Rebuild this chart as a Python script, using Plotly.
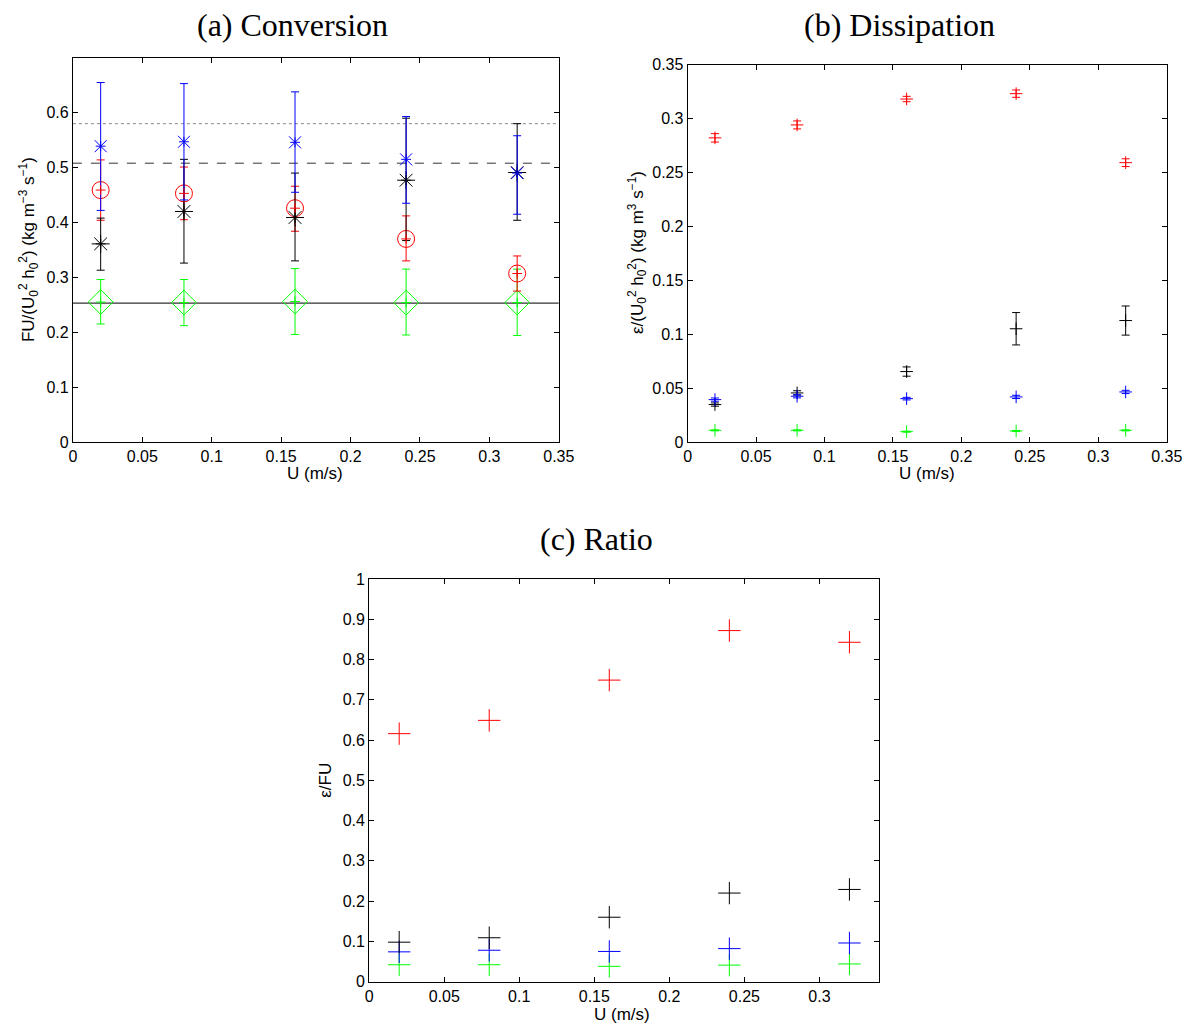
import plotly.graph_objects as go

U = [0.02, 0.08, 0.16, 0.24, 0.32]

# (a) Conversion FU/(U0^2 h0^2)
conv_blue = [0.539, 0.547, 0.546, 0.515, 0.490]
conv_blue_hi = [0.655, 0.653, 0.638, 0.593, 0.558]
conv_blue_lo = [0.422, 0.441, 0.455, 0.435, 0.415]
conv_black = [0.361, 0.420, 0.409, 0.477, 0.491]
conv_black_hi = [0.408, 0.515, 0.490, 0.590, 0.580]
conv_black_lo = [0.313, 0.326, 0.330, 0.367, 0.404]
conv_red = [0.459, 0.453, 0.426, 0.370, 0.307]
conv_red_hi = [0.514, 0.501, 0.466, 0.412, 0.339]
conv_red_lo = [0.404, 0.405, 0.384, 0.330, 0.275]
conv_green = [0.255, 0.254, 0.256, 0.254, 0.254]
conv_green_hi = [0.296, 0.296, 0.316, 0.315, 0.315]
conv_green_lo = [0.215, 0.212, 0.196, 0.195, 0.194]
ref_x = [0.0, 0.35]
ref_dotted = 0.580
ref_dashed = 0.508
ref_solid = 0.253

# (b) Dissipation eps/(U0^2 h0^2)
diss_red = [0.282, 0.294, 0.318, 0.323, 0.259]
diss_red_err = [0.0039, 0.0037, 0.0025, 0.0034, 0.0036]
diss_black = [0.0347, 0.0455, 0.0653, 0.105, 0.1126]
diss_black_err = [0.0015, 0.002, 0.0043, 0.015, 0.0135]
diss_blue = [0.0393, 0.0424, 0.0402, 0.0418, 0.0464]
diss_blue_err = [0.0015, 0.0015, 0.0012, 0.0015, 0.0015]
diss_green = [0.0108, 0.0108, 0.0096, 0.0102, 0.0108]
diss_green_err = [0.0005, 0.0005, 0.0005, 0.0005, 0.0005]

# (c) Ratio eps/FU
ratio_red = [0.616, 0.649, 0.749, 0.872, 0.843]
ratio_black = [0.098, 0.109, 0.160, 0.220, 0.229]
ratio_blue = [0.074, 0.078, 0.075, 0.082, 0.096]
ratio_green = [0.042, 0.042, 0.038, 0.041, 0.044]

RED, BLUE, GREEN, BLACK = "#ff0000", "#0000ff", "#00ff00", "#000000"

fig = go.Figure()


def err_trace(y, hi, lo, color, symbol, size, ax):
    return go.Scatter(
        x=U, y=y, mode="markers", xaxis="x" + ax, yaxis="y" + ax,
        marker=dict(symbol=symbol, size=size, color=color,
                    line=dict(color=color, width=1)),
        error_y=dict(type="data", symmetric=False,
                     array=[h - v for h, v in zip(hi, y)],
                     arrayminus=[v - l for v, l in zip(y, lo)],
                     color=color, thickness=1, width=4),
        showlegend=False, hoverinfo="x+y")


# reference lines (a)
fig.add_trace(go.Scatter(x=ref_x, y=[ref_dotted] * 2, mode="lines", xaxis="x", yaxis="y",
                         line=dict(color="#888888", width=1, dash="dot"), showlegend=False))
fig.add_trace(go.Scatter(x=ref_x, y=[ref_dashed] * 2, mode="lines", xaxis="x", yaxis="y",
                         line=dict(color="#333333", width=1, dash="dash"), showlegend=False))
fig.add_trace(go.Scatter(x=ref_x, y=[ref_solid] * 2, mode="lines", xaxis="x", yaxis="y",
                         line=dict(color="#333333", width=1.3), showlegend=False))

fig.add_trace(err_trace(conv_green, conv_green_hi, conv_green_lo, GREEN, "diamond-open", 19, ""))
fig.add_trace(err_trace(conv_red, conv_red_hi, conv_red_lo, RED, "circle-open", 17, ""))
fig.add_trace(err_trace(conv_black, conv_black_hi, conv_black_lo, BLACK, "asterisk-open", 15, ""))
fig.add_trace(err_trace(conv_blue, conv_blue_hi, conv_blue_lo, BLUE, "x-thin-open", 12, ""))
for yv, c in [(conv_green, GREEN), (conv_red, RED), (conv_black, BLACK), (conv_blue, BLUE)]:
    fig.add_trace(go.Scatter(x=U, y=yv, mode="markers", xaxis="x", yaxis="y",
                             marker=dict(symbol="cross-thin-open", size=7, color=c,
                                         line=dict(color=c, width=1)),
                             showlegend=False, hoverinfo="skip"))

# (b)
for yv, ev, c in [(diss_green, diss_green_err, GREEN), (diss_red, diss_red_err, RED),
                  (diss_black, diss_black_err, BLACK), (diss_blue, diss_blue_err, BLUE)]:
    hi = [v + e for v, e in zip(yv, ev)]
    lo = [v - e for v, e in zip(yv, ev)]
    fig.add_trace(err_trace(yv, hi, lo, c, "cross-thin-open", 9, "2"))

# (c)
for yv, c in [(ratio_green, GREEN), (ratio_blue, BLUE), (ratio_black, BLACK), (ratio_red, RED)]:
    fig.add_trace(go.Scatter(x=U, y=yv, mode="markers", xaxis="x3", yaxis="y3",
                             marker=dict(symbol="cross-thin-open", size=16, color=c,
                                         line=dict(color=c, width=1)),
                             showlegend=False))

tickfont = dict(family="Liberation Sans, Arial, sans-serif", size=16, color="black")
axcommon = dict(showgrid=False, zeroline=False, showline=True, linecolor="black", linewidth=1,
                mirror="allticks", ticks="inside", ticklen=5, tickcolor="black",
                tickfont=tickfont)

# observed mapping of figure pixels to the photographed page
AX, SX = 10.5, 0.985
AY, SY = 16.5, 0.983
W, H = 1193, 1027


def px(x):
    return ((x - AX) / SX) / W


def py(y):
    return 1 - ((y - AY) / SY) / H


def dx(a, b):
    return [px(a), px(b)]


def dy(top, bottom):
    return [py(bottom), py(top)]


fig.update_layout(
    width=W, height=H, margin=dict(l=0, r=0, t=0, b=0),
    paper_bgcolor="white", plot_bgcolor="white",
    xaxis=dict(domain=dx(71.5, 558.3), range=[0, 0.35], anchor="y",
               tickvals=[0, 0.05, 0.1, 0.15, 0.2, 0.25, 0.3, 0.35],
               ticktext=["0", "0.05", "0.1", "0.15", "0.2", "0.25", "0.3", "0.35"], **axcommon),
    yaxis=dict(domain=dy(58.3, 442.3), range=[0, 0.7], anchor="x",
               tickvals=[0, 0.1, 0.2, 0.3, 0.4, 0.5, 0.6],
               ticktext=["0", "0.1", "0.2", "0.3", "0.4", "0.5", "0.6"], **axcommon),
    xaxis2=dict(domain=dx(687.3, 1167.3), range=[0, 0.35], anchor="y2",
                tickvals=[0, 0.05, 0.1, 0.15, 0.2, 0.25, 0.3, 0.35],
                ticktext=["0", "0.05", "0.1", "0.15", "0.2", "0.25", "0.3", "0.35"], **axcommon),
    yaxis2=dict(domain=dy(65.0, 442.3), range=[0, 0.35], anchor="x2",
                tickvals=[0, 0.05, 0.1, 0.15, 0.2, 0.25, 0.3, 0.35],
                ticktext=["0", "0.05", "0.1", "0.15", "0.2", "0.25", "0.3", "0.35"], **axcommon),
    xaxis3=dict(domain=dx(368.3, 879.5), range=[0, 0.34], anchor="y3",
                tickvals=[0, 0.05, 0.1, 0.15, 0.2, 0.25, 0.3],
                ticktext=["0", "0.05", "0.1", "0.15", "0.2", "0.25", "0.3"], **axcommon),
    yaxis3=dict(domain=dy(579.3, 981.7), range=[0, 1], anchor="x3",
                tickvals=[0, 0.1, 0.2, 0.3, 0.4, 0.5, 0.6, 0.7, 0.8, 0.9, 1],
                ticktext=["0", "0.1", "0.2", "0.3", "0.4", "0.5", "0.6", "0.7", "0.8", "0.9", "1"],
                **axcommon),
)

titlefont = dict(family="Liberation Serif, DejaVu Serif, serif", size=32, color="black")
labfont = dict(family="Liberation Sans, Arial, sans-serif", size=17, color="black")


def ann(text, x, y, font, angle=0):
    fig.add_annotation(text=text, x=px(x), y=py(y), xref="paper", yref="paper",
                       showarrow=False, font=font, textangle=angle,
                       xanchor="center", yanchor="middle")


ann("(a) Conversion", 292, 25, titlefont)
ann("(b) Dissipation", 900, 25, titlefont)
ann("(c) Ratio", 596, 539, titlefont)

ann("U (m/s)", 314, 474, labfont)
ann("U (m/s)", 927, 474, labfont)
ann("U (m/s)", 622, 1015, labfont)

ann("FU/(U<sub>0</sub><sup>2</sup> h<sub>0</sub><sup>2</sup>) (kg m<sup>\u22123</sup> s<sup>\u22121</sup>)",
    27, 250, labfont, -90)
ann("\u03b5/(U<sub>0</sub><sup>2</sup> h<sub>0</sub><sup>2</sup>) (kg m<sup>3</sup> s<sup>\u22121</sup>)",
    637, 253, labfont, -90)
ann("\u03b5/FU", 325, 780, labfont, -90)

fig.write_html("out.html")
